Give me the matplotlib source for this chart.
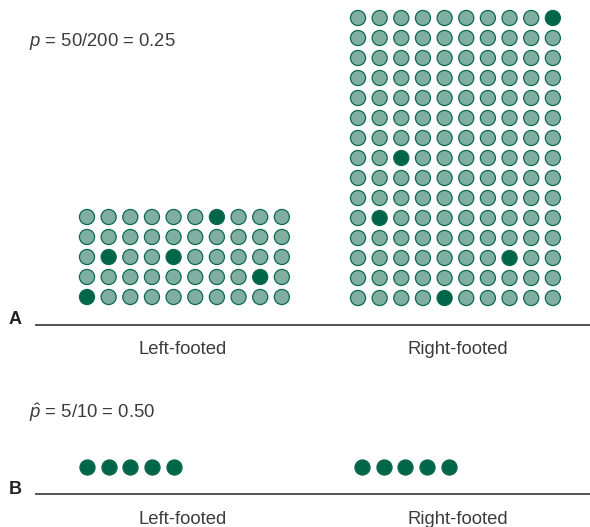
import numpy as np
from matplotlib import pyplot as plt

# grid sizes (columns x rows) for the population in panel A
left_cols, left_rows = 10, 5
right_cols, right_rows = 10, 15
# sampled individuals in panel A as (column, row from bottom)
left_sample = [(0, 0), (8, 1), (1, 2), (4, 2), (6, 4)]
right_sample = [(4, 0), (7, 2), (1, 4), (2, 7), (9, 14)]
# sample counts in panel B
left_sample_n = 5
right_sample_n = 5
group_labels = ['Left-footed', 'Right-footed']
p_text = '$p$ = 50/200 = 0.25'
phat_text = r'$\hat{p}$ = 5/10 = 0.50'

plt.rcParams['font.family'] = ['Liberation Sans', 'DejaVu Sans']
plt.rcParams['mathtext.fontset'] = 'custom'
plt.rcParams['mathtext.rm'] = 'Liberation Sans'
plt.rcParams['mathtext.it'] = 'Liberation Sans:italic'

light = '#80aea1'
dark = '#00664a'
edge = '#0b6a4f'
txt = '#3c3c3c'

W, H = 590, 527
fig = plt.figure(figsize=(W / 100, H / 100), dpi=100)
ax = fig.add_axes([0, 0, 1, 1])
ax.set_xlim(0, W)
ax.set_ylim(H, 0)
ax.axis('off')

dx, dy = 21.65, 20.0
s = 118
fs = 13.3


def draw_grid(x0, y_base, ncols, nrows, sample):
    xs, ys, cs = [], [], []
    for r in range(nrows):
        for c in range(ncols):
            xs.append(x0 + c * dx)
            ys.append(y_base - r * dy)
            cs.append(dark if (c, r) in sample else light)
    ax.scatter(xs, ys, s=s, c=cs, edgecolors=edge, linewidths=0.9, zorder=3)


# panel A
draw_grid(87, 297, left_cols, left_rows, left_sample)
draw_grid(358, 298, right_cols, right_rows, right_sample)
ax.plot([36, 590], [324.5, 324.5], color='#444444', lw=1.3)
ax.text(9, 320, 'A', fontsize=13, fontweight='bold', color='#222222', va='center')
ax.text(183, 350, group_labels[0], fontsize=fs, color=txt, ha='center', va='center')
ax.text(458, 350, group_labels[1], fontsize=fs, color=txt, ha='center', va='center')
ax.text(29, 42, p_text, fontsize=fs, color=txt, va='center')

# panel B
ax.scatter(87 + np.arange(left_sample_n) * dx, np.full(left_sample_n, 467.0),
           s=s, c=dark, edgecolors=edge, linewidths=0.9, zorder=3)
ax.scatter(362 + np.arange(right_sample_n) * dx, np.full(right_sample_n, 467.0),
           s=s, c=dark, edgecolors=edge, linewidths=0.9, zorder=3)
ax.plot([36, 590], [493.5, 493.5], color='#444444', lw=1.3)
ax.text(9, 490, 'B', fontsize=13, fontweight='bold', color='#222222', va='center')
ax.text(183, 519, group_labels[0], fontsize=fs, color=txt, ha='center', va='center')
ax.text(458, 519, group_labels[1], fontsize=fs, color=txt, ha='center', va='center')
ax.text(29, 413, phat_text, fontsize=fs, color=txt, va='center')

fig.savefig('out.png', dpi=100)
